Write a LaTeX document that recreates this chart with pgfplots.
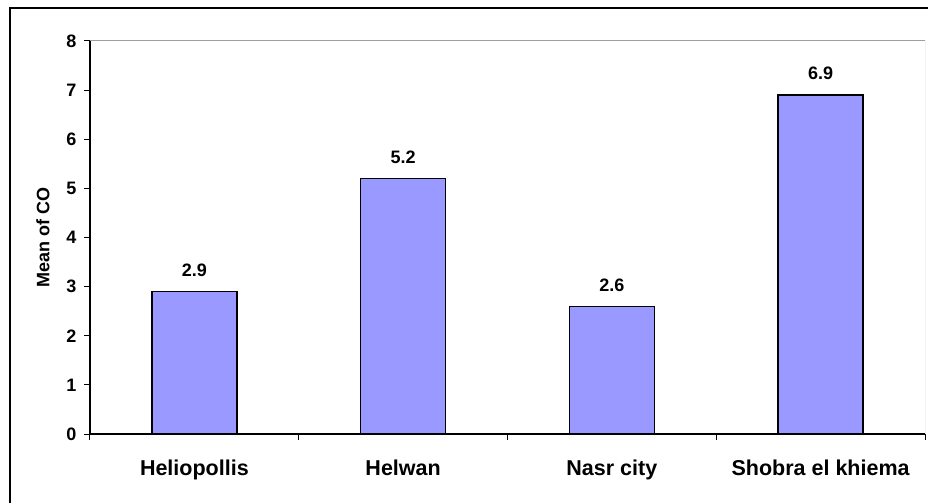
\documentclass[border=0pt]{standalone}
\usepackage{fontspec}
\setmainfont{Liberation Sans}
\usepackage{pgfplots}
\pgfplotsset{compat=1.18}
\definecolor{barblue}{HTML}{9999FF}
\begin{document}
\begin{tikzpicture}
\useasboundingbox (-90bp,-69bp) rectangle (838bp,434bp);
\draw[line width=2bp, black] (-80bp,-75bp) -- (-80bp,426bp) -- (845bp,426bp);
\begin{axis}[
  at={(0,0)}, anchor=south west,
  scale only axis, width=835bp, height=393bp,
  xmin=-0.5, xmax=3.5, ymin=0, ymax=8,
  axis x line*=bottom, axis y line*=left,
  axis line style={-, line width=1.3bp, black},
  xtick={-0.5,0.5,1.5,2.5,3.5},
  x tick label as interval,
  xticklabels={Heliopollis,Helwan,Nasr city,Shobra el khiema},
  ytick={0,1,2,3,4,5,6,7,8},
  tick align=outside,
  major tick length=6bp,
  tick style={black, line width=1bp},
  /pgf/number format/assume math mode=true,
  yticklabel style={font=\fontsize{18bp}{21bp}\selectfont\bfseries, xshift=-4bp},
  xticklabel style={font=\fontsize{21.5bp}{25bp}\selectfont\bfseries, yshift=-16bp},
  ylabel={Mean of CO},
  ylabel style={font=\fontsize{18bp}{21bp}\selectfont\bfseries, at={(axis description cs:-0.0563,0.5)}, anchor=center},
]
\addplot[ybar, bar width=85bp, fill=barblue, draw=black, line width=1.3bp,
  nodes near coords,
  nodes near coords style={font=\fontsize{18bp}{21bp}\selectfont\bfseries, yshift=11bp, /pgf/number format/fixed, /pgf/number format/precision=1}]
  coordinates {(0,2.9) (1,5.2) (2,2.6) (3,6.9)};
\draw[gray!75, line width=1bp] (rel axis cs:0,1) -- (rel axis cs:1,1) -- (rel axis cs:1,0);
\end{axis}
\end{tikzpicture}
\end{document}
